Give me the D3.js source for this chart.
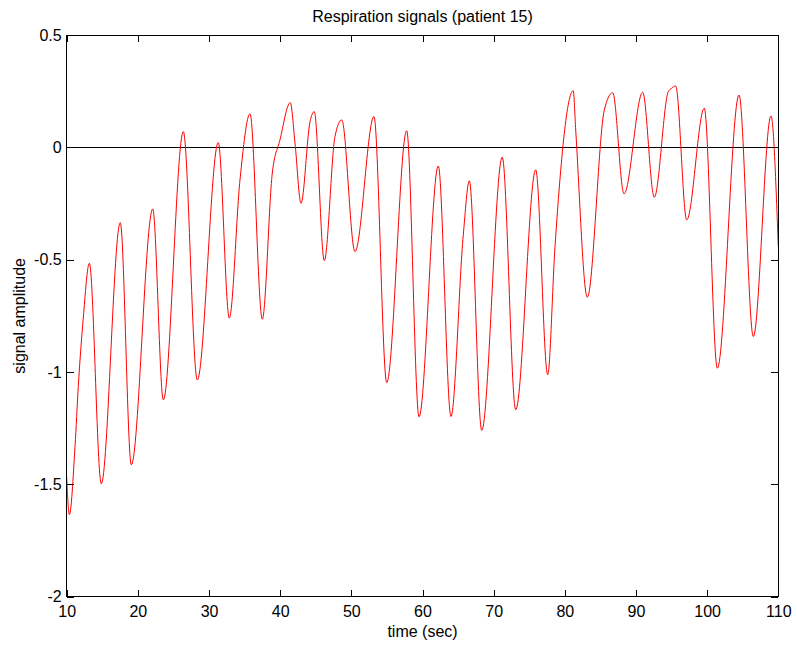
<!DOCTYPE html>
<html>
<head>
<meta charset="utf-8">
<script src="https://cdn.jsdelivr.net/npm/d3@7"></script>
<style>
  html, body { margin: 0; padding: 0; background: #fff; }
  svg { display: block; font-family: "Liberation Sans", Arial, Helvetica, sans-serif; }
</style>
</head>
<body>
<svg id="chart" width="797" height="645"></svg>
<script>
// Respiration trace: turning points and shoulders of the signal (time in s, amplitude)
const timeSec = [
  10.00, 10.37, 11.17, 11.63, 12.33, 13.18, 14.86, 17.53, 19.08, 22.09,
  23.58, 26.39, 28.35, 31.30, 32.85, 34.35, 35.76, 37.49, 38.89, 39.97,
  41.42, 42.08, 42.93, 44.19, 44.79, 46.20, 47.70, 48.65, 50.51, 53.18,
  54.97, 57.78, 59.51, 62.22, 64.00, 65.73, 66.58, 68.32, 71.21, 73.10,
  75.91, 77.59, 78.62, 81.19, 81.53, 83.16, 85.55, 86.73, 88.32, 90.94,
  92.57, 94.54, 95.01, 95.58, 97.13, 99.60, 101.43, 104.48, 106.49, 108.97,
  110.00
];
const amplitude = [
  -1.470, -1.635, -1.331, -1.064, -0.760, -0.516, -1.497, -0.335, -1.413, -0.274,
  -1.124,  0.070, -1.035,  0.021, -0.760, -0.145,  0.149, -0.765, -0.115,  0.033,
   0.199,  0.020, -0.249,  0.114,  0.159, -0.504,  0.048,  0.122, -0.464,  0.137,
  -1.047,  0.074, -1.199, -0.083, -1.198, -0.390, -0.149, -1.260, -0.044, -1.168,
  -0.100, -1.012, -0.442,  0.252,  0.077, -0.667,  0.166,  0.243, -0.207,  0.245,
  -0.222,  0.248,  0.263,  0.273, -0.323,  0.174, -0.983,  0.233, -0.842,  0.140,
  -0.442
];

// Axis ticks
const xTickValues = [10, 20, 30, 40, 50, 60, 70, 80, 90, 100, 110];
const xTickLabels = ["10", "20", "30", "40", "50", "60", "70", "80", "90", "100", "110"];
const yTickValues = [-2, -1.5, -1, -0.5, 0, 0.5];
const yTickLabels = ["-2", "-1.5", "-1", "-0.5", "0", "0.5"];

const titleText = "Respiration signals (patient 15)";
const xLabelText = "time (sec)";
const yLabelText = "signal amplitude";

const svg = d3.select("#chart");
const plotLeft = 66.7, plotRight = 778.3, plotTop = 35, plotBottom = 596.7;
const fontSize = 16;
const tickLen = 7;

const x = d3.scaleLinear().domain([10, 110]).range([plotLeft, plotRight]);
const y = d3.scaleLinear().domain([-2, 0.5]).range([plotBottom, plotTop]);

const points = timeSec.map((t, i) => ({ t, v: amplitude[i] }));

// Zero reference line
svg.append("line")
  .attr("x1", x(10)).attr("x2", x(110))
  .attr("y1", y(0)).attr("y2", y(0))
  .attr("stroke", "#000").attr("stroke-width", 1)
  .attr("shape-rendering", "crispEdges");

// Signal
const line = d3.line()
  .x(d => x(d.t))
  .y(d => y(d.v))
  .curve(d3.curveMonotoneX);

svg.append("path")
  .datum(points)
  .attr("d", line)
  .attr("fill", "none")
  .attr("stroke", "#ff0000")
  .attr("stroke-width", 1);

// Axes with inward ticks on all four sides
function styleAxis(g) {
  g.selectAll(".domain").remove();
  g.selectAll("line").attr("stroke", "#000").attr("shape-rendering", "crispEdges");
  g.selectAll("text").attr("fill", "#000").style("font-size", fontSize + "px")
    .style("font-family", '"Liberation Sans", Arial, sans-serif');
}

const xFmt = (d) => xTickLabels[xTickValues.indexOf(d)];
const yFmt = (d) => yTickLabels[yTickValues.indexOf(d)];

svg.append("g")
  .attr("transform", `translate(0,${plotBottom})`)
  .call(d3.axisBottom(x).tickValues(xTickValues).tickFormat(xFmt)
    .tickSizeInner(-tickLen).tickSizeOuter(0).tickPadding(9))
  .call(styleAxis);

svg.append("g")
  .attr("transform", `translate(0,${plotTop})`)
  .call(d3.axisTop(x).tickValues(xTickValues).tickFormat(() => "")
    .tickSizeInner(-tickLen).tickSizeOuter(0))
  .call(styleAxis);

svg.append("g")
  .attr("transform", `translate(${plotLeft},0)`)
  .call(d3.axisLeft(y).tickValues(yTickValues).tickFormat(yFmt)
    .tickSizeInner(-tickLen).tickSizeOuter(0).tickPadding(5))
  .call(styleAxis);

svg.append("g")
  .attr("transform", `translate(${plotRight},0)`)
  .call(d3.axisRight(y).tickValues(yTickValues).tickFormat(() => "")
    .tickSizeInner(-tickLen).tickSizeOuter(0))
  .call(styleAxis);

// Frame
svg.append("rect")
  .attr("x", plotLeft).attr("y", plotTop)
  .attr("width", plotRight - plotLeft).attr("height", plotBottom - plotTop)
  .attr("fill", "none").attr("stroke", "#000").attr("stroke-width", 1)
  .attr("shape-rendering", "crispEdges");

// Title and axis labels
svg.append("text")
  .attr("x", (plotLeft + plotRight) / 2).attr("y", 22)
  .attr("text-anchor", "middle")
  .style("font-size", fontSize + "px")
  .text(titleText);

svg.append("text")
  .attr("x", (plotLeft + plotRight) / 2).attr("y", 637)
  .attr("text-anchor", "middle")
  .style("font-size", fontSize + "px")
  .text(xLabelText);

svg.append("text")
  .attr("transform", `translate(25,${(plotTop + plotBottom) / 2}) rotate(-90)`)
  .attr("text-anchor", "middle")
  .style("font-size", fontSize + "px")
  .text(yLabelText);
</script>
</body>
</html>
